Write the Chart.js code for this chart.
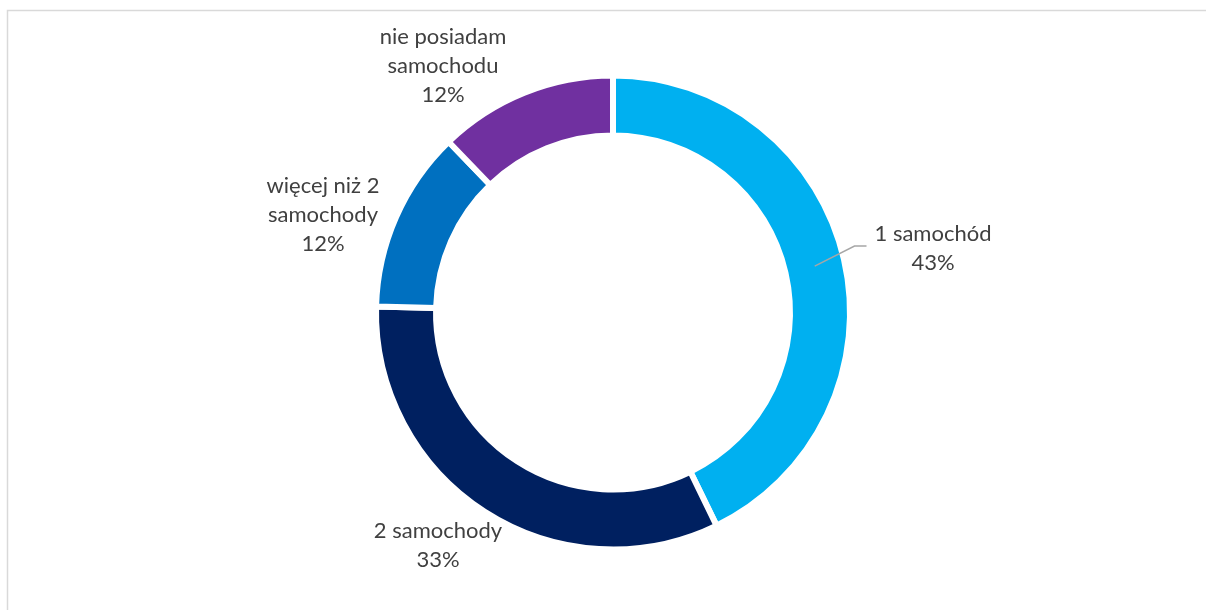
<!DOCTYPE html>
<html>
<head>
<meta charset="utf-8">
<script src="https://cdn.jsdelivr.net/npm/chart.js@4"></script>
<style>
  html, body { margin: 0; padding: 0; background: #ffffff; }
  #wrap { width: 1206px; height: 610px; position: relative; }
</style>
</head>
<body>
<div id="wrap"><canvas id="c" width="1206" height="610"></canvas></div>
<script>
// ---- data ----
const categories = ['1 samochód', '2 samochody', 'więcej niż 2 samochody', 'nie posiadam samochodu'];
const values = [42.8, 32.6, 12.4, 12.2];
const nameLines = [
  ['1 samochód'],
  ['2 samochody'],
  ['więcej niż 2', 'samochody'],
  ['nie posiadam', 'samochodu']
];
const colors = ['#00B0F0', '#002060', '#0070C0', '#7030A0'];

// ---- label placement (first baseline, relative to chart centre) ----
const labelOffsets = [[320, -71.5], [-175, 225.5], [-290, -119.5], [-170, -268.5]];
const leaderFor = [true, false, false, false];
const FONT_FAMILY = 'Lato, "Open Sans", sans-serif';
const FONT_SIZE = 22;
const LINE_H = 29;

const framePlugin = {
  id: 'frame',
  beforeDraw(chart) {
    const ctx = chart.ctx;
    ctx.save();
    ctx.strokeStyle = '#d9d9d9';
    ctx.lineWidth = 1.5;
    ctx.beginPath();
    ctx.moveTo(7.5, 700);
    ctx.lineTo(7.5, 10.5);
    ctx.lineTo(1300, 10.5);
    ctx.stroke();
    ctx.restore();
  }
};

const labelPlugin = {
  id: 'outerLabels',
  afterDatasetsDraw(chart) {
    const ctx = chart.ctx;
    const meta = chart.getDatasetMeta(0);
    const total = values.reduce((a, b) => a + b, 0);
    ctx.save();
    ctx.font = FONT_SIZE + 'px ' + FONT_FAMILY;
    ctx.fillStyle = '#404040';
    ctx.textAlign = 'center';
    ctx.textBaseline = 'alphabetic';
    meta.data.forEach((arc, i) => {
      const cx = arc.x, cy = arc.y;
      const lx = cx + labelOffsets[i][0];
      const ly = cy + labelOffsets[i][1];
      const lines = nameLines[i].concat([Math.round(values[i] / total * 100) + '%']);
      lines.forEach((t, k) => ctx.fillText(t, lx, ly + k * LINE_H));
      if (leaderFor[i]) {
        const mid = (arc.startAngle + arc.endAngle) / 2;
        const rMid = (arc.innerRadius + arc.outerRadius) / 2;
        const sx = cx + Math.cos(mid) * rMid;
        const sy = cy + Math.sin(mid) * rMid;
        const w = ctx.measureText(lines[0]).width;
        const ex = lx - w / 2 - 8;
        const ey = ly + 5;
        ctx.strokeStyle = '#a6a6a6';
        ctx.lineWidth = 1.5;
        ctx.beginPath();
        ctx.moveTo(sx, sy);
        ctx.lineTo(ex - 12, ey);
        ctx.lineTo(ex, ey);
        ctx.stroke();
      }
    });
    ctx.restore();
  }
};

new Chart(document.getElementById('c'), {
  type: 'doughnut',
  data: {
    labels: categories,
    datasets: [{
      data: values,
      backgroundColor: colors,
      borderColor: '#ffffff',
      borderWidth: 6,
      hoverOffset: 0
    }]
  },
  options: {
    responsive: false,
    animation: false,
    rotation: 0,
    radius: 237,
    cutout: '74.68%',
    layout: { padding: { left: 20, right: 0, top: 15, bottom: 0 } },
    plugins: {
      legend: { display: false },
      tooltip: { enabled: false }
    },
    events: []
  },
  plugins: [framePlugin, labelPlugin]
});
</script>
</body>
</html>
